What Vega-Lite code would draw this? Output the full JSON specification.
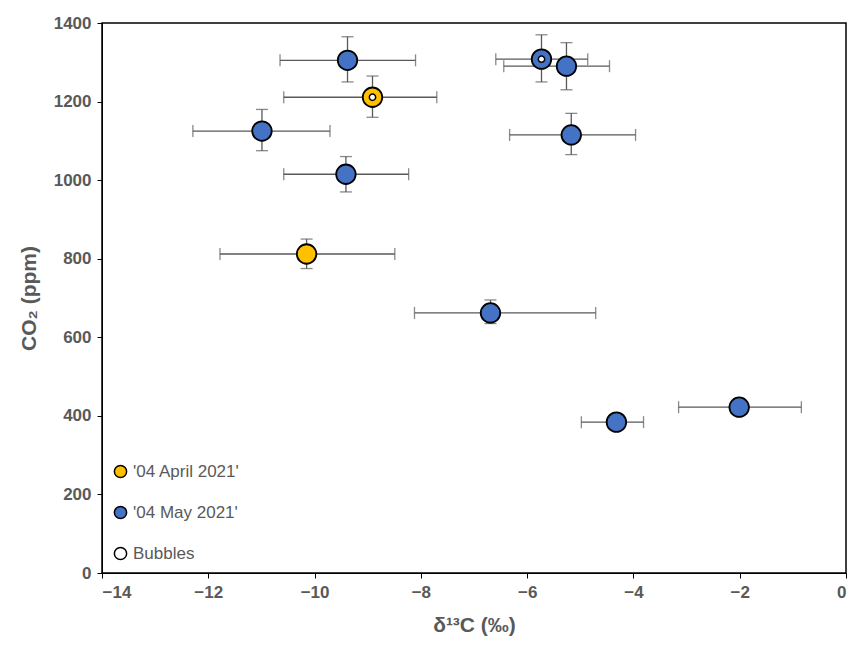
{
  "$schema": "https://vega.github.io/schema/vega-lite/v6.json",
  "width": 744,
  "height": 550,
  "autosize": "none",
  "padding": {"left": 102, "top": 23, "right": 5, "bottom": 85},
  "config": {
    "font": "Liberation Sans",
    "view": {"stroke": "#000", "strokeWidth": 1.5},
    "axis": {"labelFontSize": 17, "labelFontWeight": "bold", "labelColor": "#595959", "titleFontSize": 21, "titleColor": "#595959", "titleFontWeight": "bold", "grid": false, "domainColor": "#000", "tickColor": "#000", "labelPadding": 6}
  },
  "data": {"values": [
    {"x": -9.38, "y": 1305, "xlo": -10.65, "xhi": -8.10, "ylo": 1250, "yhi": 1365, "series": "'04 May 2021'", "bubble": false},
    {"x": -8.91, "y": 1211, "xlo": -10.58, "xhi": -7.70, "ylo": 1160, "yhi": 1265, "series": "'04 April 2021'", "bubble": true},
    {"x": -10.99, "y": 1125, "xlo": -12.29, "xhi": -9.71, "ylo": 1075, "yhi": 1180, "series": "'04 May 2021'", "bubble": false},
    {"x": -9.41, "y": 1015, "xlo": -10.58, "xhi": -8.23, "ylo": 970, "yhi": 1060, "series": "'04 May 2021'", "bubble": false},
    {"x": -10.15, "y": 812, "xlo": -11.78, "xhi": -8.49, "ylo": 775, "yhi": 850, "series": "'04 April 2021'", "bubble": false},
    {"x": -6.69, "y": 662, "xlo": -8.12, "xhi": -4.71, "ylo": 635, "yhi": 695, "series": "'04 May 2021'", "bubble": false},
    {"x": -4.32, "y": 384, "xlo": -4.98, "xhi": -3.81, "ylo": 384, "yhi": 384, "series": "'04 May 2021'", "bubble": false},
    {"x": -2.01, "y": 422, "xlo": -3.15, "xhi": -0.84, "ylo": 422, "yhi": 422, "series": "'04 May 2021'", "bubble": false},
    {"x": -5.17, "y": 1115, "xlo": -6.33, "xhi": -3.96, "ylo": 1065, "yhi": 1170, "series": "'04 May 2021'", "bubble": false},
    {"x": -5.26, "y": 1290, "xlo": -6.44, "xhi": -4.45, "ylo": 1230, "yhi": 1350, "series": "'04 May 2021'", "bubble": false},
    {"x": -5.73, "y": 1308, "xlo": -6.59, "xhi": -4.86, "ylo": 1250, "yhi": 1370, "series": "'04 May 2021'", "bubble": true}
  ]},
  "encoding": {
    "x": {"field": "x", "type": "quantitative", "scale": {"domain": [-14, 0]}, "axis": {"title": "δ¹³C (‰)", "tickCount": 7, "format": "d", "titlePadding": 14}},
    "y": {"field": "y", "type": "quantitative", "scale": {"domain": [0, 1400]}, "axis": {"title": "CO₂ (ppm)", "tickCount": 7, "format": "d", "titlePadding": 14}}
  },
  "layer": [
    {"mark": {"type": "rule", "color": "#595959", "strokeWidth": 1.3}, "encoding": {"x": {"field": "xlo", "type": "quantitative"}, "x2": {"field": "xhi"}}},
    {"mark": {"type": "rule", "color": "#595959", "strokeWidth": 1.3}, "encoding": {"y": {"field": "ylo", "type": "quantitative"}, "y2": {"field": "yhi"}}},
    {"mark": {"type": "tick", "orient": "vertical", "color": "#595959", "size": 12, "thickness": 1.3}, "encoding": {"x": {"field": "xlo", "type": "quantitative"}}},
    {"mark": {"type": "tick", "orient": "vertical", "color": "#595959", "size": 12, "thickness": 1.3}, "encoding": {"x": {"field": "xhi", "type": "quantitative"}}},
    {"mark": {"type": "tick", "orient": "horizontal", "color": "#595959", "size": 12, "thickness": 1.3}, "encoding": {"y": {"field": "ylo", "type": "quantitative"}}},
    {"mark": {"type": "tick", "orient": "horizontal", "color": "#595959", "size": 12, "thickness": 1.3}, "encoding": {"y": {"field": "yhi", "type": "quantitative"}}},
    {"mark": {"type": "circle", "size": 380, "opacity": 1, "stroke": "#000", "strokeWidth": 1.8},
     "encoding": {"color": {"field": "series", "type": "nominal",
       "scale": {"domain": ["'04 April 2021'", "'04 May 2021'", "Bubbles"], "range": ["#FFC000", "#4472C4", "#FFFFFF"]},
       "legend": {"title": null, "orient": "bottom-left", "offset": 10, "labelFontSize": 17, "labelColor": "#595959", "symbolStrokeColor": "#000", "symbolStrokeWidth": 1.5, "symbolSize": 150, "rowPadding": 22, "values": ["'04 April 2021'", "'04 May 2021'", "Bubbles"]}}}},
    {"transform": [{"filter": "datum.bubble"}],
     "mark": {"type": "circle", "size": 40, "opacity": 1, "fill": "#FFFFFF", "stroke": "#000", "strokeWidth": 1.5},
     "encoding": {}}
  ]
}
